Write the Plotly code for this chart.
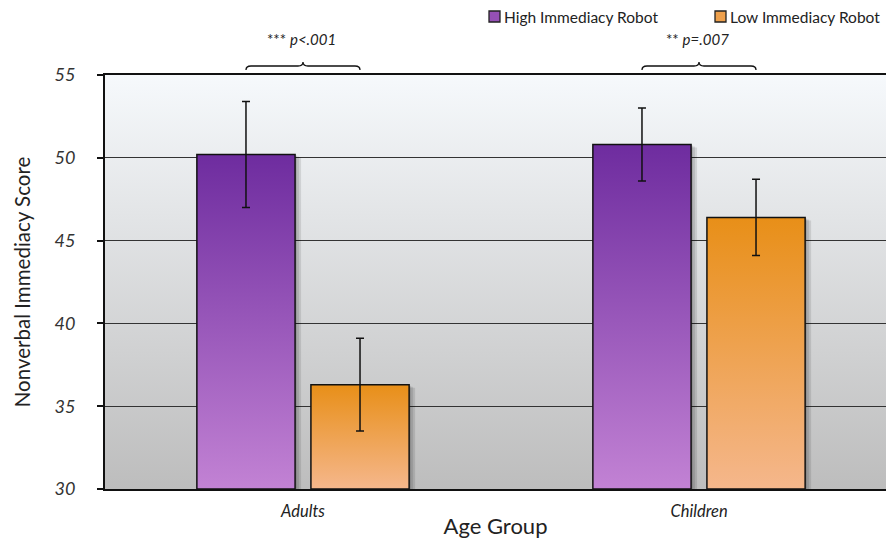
import base64
import plotly.graph_objects as go

# ---- data ----
categories = ["Adults", "Children"]
series_names = ["High Immediacy Robot", "Low Immediacy Robot"]
high_means = [50.2, 50.8]
high_err = [3.2, 2.2]
low_means = [36.3, 46.4]
low_err = [2.8, 2.3]
sig_labels = ["*** <i>p&lt;.001</i>", "** <i>p=.007</i>"]
y_ticks = [30, 35, 40, 45, 50, 55]

# ---- styling ----
FONT = "Lato, 'Open Sans', sans-serif"
Y_MIN, Y_MAX = 30, 55
BAR_W = 0.248
GAP = 0.040
PX_PER_X = 396.0          # pixels per category unit
PX_PER_Y = 414.0 / (Y_MAX - Y_MIN)
PLOT_H = 414.0
PLOT_W = 781.0

purple_scale = [[0, "#c282d4"], [1, "#6e2c9f"]]
orange_scale = [[0, "#f5b78c"], [1, "#e88f18"]]
purple_swatch = "#9550b5"
orange_swatch = "#eea04c"

fig = go.Figure()

offsets = {"high": -GAP / 2 - BAR_W, "low": GAP / 2}
series = [
    ("high", series_names[0], high_means, high_err, purple_scale),
    ("low", series_names[1], low_means, low_err, orange_scale),
]

# soft drop shadows to the right of each bar
for key, name, means, errs, scale in series:
    for i, v in enumerate(means):
        left = i + offsets[key]
        for d in (2, 4, 6):
            dx = d / PX_PER_X
            dy = d / PX_PER_Y * 0.5
            x0, x1 = left + dx, left + BAR_W + dx
            top = v - dy
            fig.add_trace(go.Scatter(
                x=[x0, x0, x1, x1, x0], y=[Y_MIN, top, top, Y_MIN, Y_MIN],
                fill="toself", fillcolor="rgba(0,0,0,0.10)",
                mode="lines", line=dict(width=0), hoverinfo="skip",
                showlegend=False))

# gradient-filled bars
for key, name, means, errs, scale in series:
    for i, v in enumerate(means):
        x0 = i + offsets[key]
        x1 = x0 + BAR_W
        fig.add_trace(go.Scatter(
            x=[x0, x0, x1, x1, x0], y=[Y_MIN, v, v, Y_MIN, Y_MIN],
            fill="toself",
            fillgradient=dict(type="vertical", colorscale=scale),
            mode="lines", line=dict(color="#111111", width=1.5),
            name=name, showlegend=False, hoverinfo="skip"))

# error bars at the bar centres
for key, name, means, errs, scale in series:
    xs = [i + offsets[key] + BAR_W / 2 for i in range(len(categories))]
    fig.add_trace(go.Scatter(
        x=xs, y=means, mode="markers",
        marker=dict(size=1, opacity=0),
        error_y=dict(type="data", array=errs, visible=True,
                     color="#111111", thickness=1.5, width=4),
        name=name, showlegend=False,
        hovertemplate=name + ": %{y}<extra></extra>"))

# significance braces + labels
shapes = []
annotations = []
y_line = 1 + 9 / PLOT_H
y_end = 1 + 5 / PLOT_H
y_tip = 1 + 13 / PLOT_H
c = 5 / PX_PER_X
for i, lab in enumerate(sig_labels):
    xa = i + offsets["high"] + BAR_W / 2
    xb = i + offsets["low"] + BAR_W / 2
    xm = (xa + xb) / 2
    path = (f"M {xa},{y_end} Q {xa},{y_line} {xa + c},{y_line} "
            f"L {xm - c},{y_line} Q {xm},{y_line} {xm},{y_tip} "
            f"Q {xm},{y_line} {xm + c},{y_line} "
            f"L {xb - c},{y_line} Q {xb},{y_line} {xb},{y_end}")
    shapes.append(dict(type="path", path=path, xref="x", yref="paper",
                       line=dict(color="#111111", width=1.3)))
    annotations.append(dict(x=xm - 2 / PX_PER_X, y=1 + 36 / PLOT_H, xref="x", yref="paper",
                            text=lab, showarrow=False, xanchor="center",
                            yanchor="middle",
                            font=dict(family=FONT, size=15, color="#222222")))

# legend drawn as swatches with text
legend_items = [(series_names[0], purple_swatch, 384), (series_names[1], orange_swatch, 610)]
for name, col, px in legend_items:
    x0 = px / PLOT_W
    x1 = (px + 11) / PLOT_W
    shapes.append(dict(type="rect", xref="paper", yref="paper",
                       x0=x0, x1=x1, y0=1 + 53 / PLOT_H, y1=1 + 64 / PLOT_H,
                       fillcolor=col, line=dict(color="#222222", width=1.3)))
    annotations.append(dict(x=(px + 13) / PLOT_W, y=1 + 58.5 / PLOT_H,
                            xref="paper", yref="paper", text=name,
                            showarrow=False, xanchor="left", yanchor="middle",
                            font=dict(family=FONT, size=15.5, color="#222222")))

# plot-area background gradient
svg = ('<svg xmlns="http://www.w3.org/2000/svg" width="100" height="100" '
       'preserveAspectRatio="none"><defs><linearGradient id="g" x1="0" y1="0" '
       'x2="0" y2="1"><stop offset="0" stop-color="#f6f9fc"/>'
       '<stop offset="1" stop-color="#bdbdbd"/></linearGradient></defs>'
       '<rect width="100" height="100" fill="url(#g)"/></svg>')
bg_src = "data:image/svg+xml;base64," + base64.b64encode(svg.encode()).decode()

fig.update_layout(
    width=886, height=539,
    margin=dict(l=105, r=0, t=75, b=50),
    paper_bgcolor="white", plot_bgcolor="rgba(0,0,0,0)",
    showlegend=False,
    font=dict(family=FONT, color="#222222"),
    images=[dict(source=bg_src, xref="x domain", yref="y domain",
                 x=0, y=1, sizex=1, sizey=1, sizing="stretch",
                 xanchor="left", yanchor="top", layer="below")],
    shapes=shapes,
    annotations=annotations,
    xaxis=dict(
        range=[-0.5, -0.5 + PLOT_W / PX_PER_X],
        tickvals=list(range(len(categories))), ticktext=categories,
        tickfont=dict(family=FONT, size=16.5, color="#222222", style="italic"),
        ticks="", showgrid=False, zeroline=False, ticklabelstandoff=6,
        showline=True, linecolor="#111111", linewidth=2, mirror=True,
        title=dict(text="Age Group", standoff=2,
                   font=dict(family=FONT, size=22, color="#222222")),
    ),
    yaxis=dict(
        range=[Y_MIN, Y_MAX], tickvals=y_ticks,
        tickfont=dict(family=FONT, size=18, color="#333333", style="italic"),
        ticks="outside", ticklen=6, tickcolor="#111111", tickwidth=1.5,
        ticklabelstandoff=18,
        showgrid=True, gridcolor="#333333", gridwidth=1, zeroline=False,
        showline=True, linecolor="#111111", linewidth=2, mirror=False,
        title=dict(text="Nonverbal Immediacy Score", standoff=18,
                   font=dict(family=FONT, size=20.5, color="#222222")),
    ),
)

fig.write_html("out.html")
